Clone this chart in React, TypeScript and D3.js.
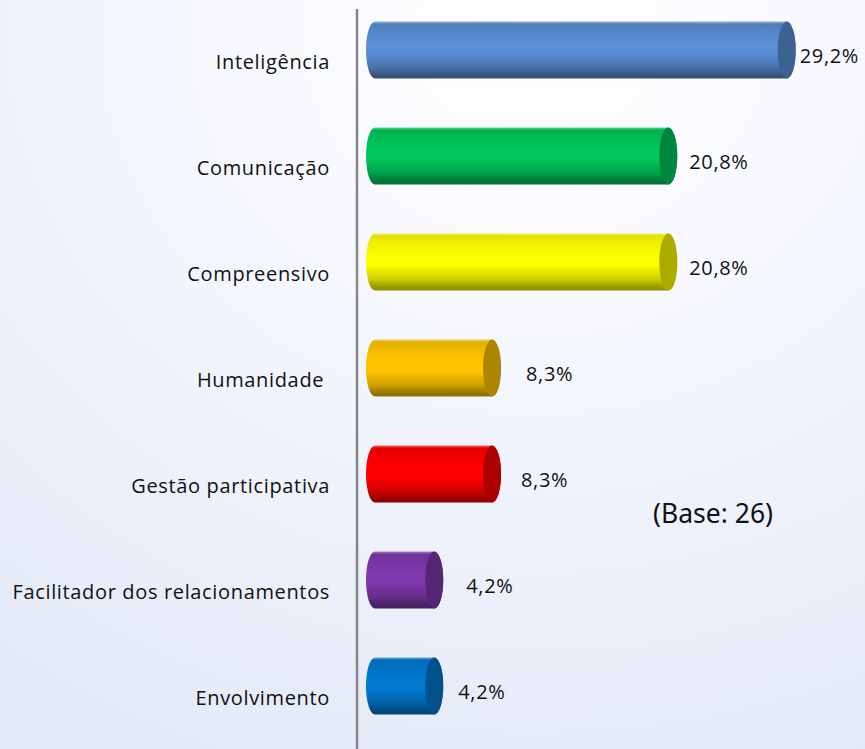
import React from "react";
import * as d3 from "d3";

const categories = [
  "Inteligência",
  "Comunicação",
  "Compreensivo",
  "Humanidade\u00a0",
  "Gestão participativa",
  "Facilitador dos relacionamentos",
  "Envolvimento",
];
const values = [29.2, 20.8, 20.8, 8.3, 8.3, 4.2, 4.2];
const valueLabels = ["29,2%", "20,8%", "20,8%", "8,3%", "8,3%", "4,2%", "4,2%"];
const barColors = ["#5a8fd5", "#00c85a", "#ffff00", "#ffc600", "#ff0000", "#7e38ac", "#0078d0"];
const labelNudge = [4, 12, 12, 25, 20, 23, 15];
const baseNote = "(Base: 26)";

const W = 865;
const H = 749;
const FONT = "'Open Sans', 'Noto Sans', sans-serif";

export default function App() {
  const y = d3.scalePoint<string>().domain(categories).range([50, 686]);
  const x = d3.scaleLinear().domain([0, 30]).range([375, 375 + 14.1 * 30]);
  const barH = 57;
  const rx = 9;
  const ry = barH / 2;

  return (
    <div style={{ position: "absolute", left: 0, top: 0, width: W, height: H }}>
      <svg width={W} height={H} viewBox={`0 0 ${W} ${H}`} style={{ display: "block" }}>
        <defs>
          <radialGradient id="bg" cx="0.62" cy="0.05" r="1.1" fx="0.62" fy="0.05">
            <stop offset="0" stopColor="#ffffff" />
            <stop offset="0.35" stopColor="#f6f8fe" />
            <stop offset="1" stopColor="#e1e8f6" />
          </radialGradient>
          {barColors.map((c, i) => {
            const base = d3.color(c)!;
            const rim = d3.interpolateRgb(c, "#d8d8d8")(0.45);
            return (
              <linearGradient key={i} id={`g${i}`} x1="0" y1="0" x2="0" y2="1">
                <stop offset="0" stopColor={rim} />
                <stop offset="0.05" stopColor={base.darker(0.35).formatHex()} />
                <stop offset="0.14" stopColor={base.darker(0.2).formatHex()} />
                <stop offset="0.4" stopColor={base.formatHex()} />
                <stop offset="0.55" stopColor={base.formatHex()} />
                <stop offset="0.8" stopColor={base.darker(0.6).formatHex()} />
                <stop offset="0.93" stopColor={base.darker(1.4).formatHex()} />
                <stop offset="1" stopColor={base.darker(1.6).formatHex()} />
              </linearGradient>
            );
          })}
        </defs>
        <rect x={0} y={0} width={W} height={H} fill="url(#bg)" />

        <line x1={357} x2={357} y1={9} y2={H} stroke="#868686" strokeWidth={2.5} />

        {categories.map((cat, i) => {
          const cy = y(cat)!;
          const x0 = x(0);
          const x1 = x(values[i]);
          const top = cy - ry;
          const bot = cy + ry;
          const body = `M${x0},${top} L${x1},${top} A${rx},${ry} 0 0 1 ${x1},${bot} L${x0},${bot} A${rx},${ry} 0 0 1 ${x0},${top} Z`;
          const cap = d3.color(barColors[i])!.darker(1.1).formatHex();
          return (
            <g key={cat}>
              <path d={body} fill={`url(#g${i})`} />
              <ellipse cx={x1} cy={cy} rx={rx} ry={ry} fill={cap} />
              <text
                x={x1 + rx + labelNudge[i]}
                y={cy + 8}
                dominantBaseline="middle"
                fontFamily={FONT}
                fontSize={20}
                letterSpacing={0.65}
                fill="#111"
              >
                {valueLabels[i]}
              </text>
              <text
                x={330}
                y={cy + 14}
                textAnchor="end"
                dominantBaseline="middle"
                fontFamily={FONT}
                fontSize={20}
                letterSpacing={0.65}
                fill="#111"
                style={{ whiteSpace: "pre" }}
              >
                {cat}
              </text>
            </g>
          );
        })}

        <text
          x={653}
          y={523}
          fontFamily="'Noto Sans', 'DejaVu Sans', sans-serif"
          fontSize={28}
          textLength={120}
          lengthAdjust="spacingAndGlyphs"
          fill="#111"
        >
          {baseNote}
        </text>
      </svg>
    </div>
  );
}
